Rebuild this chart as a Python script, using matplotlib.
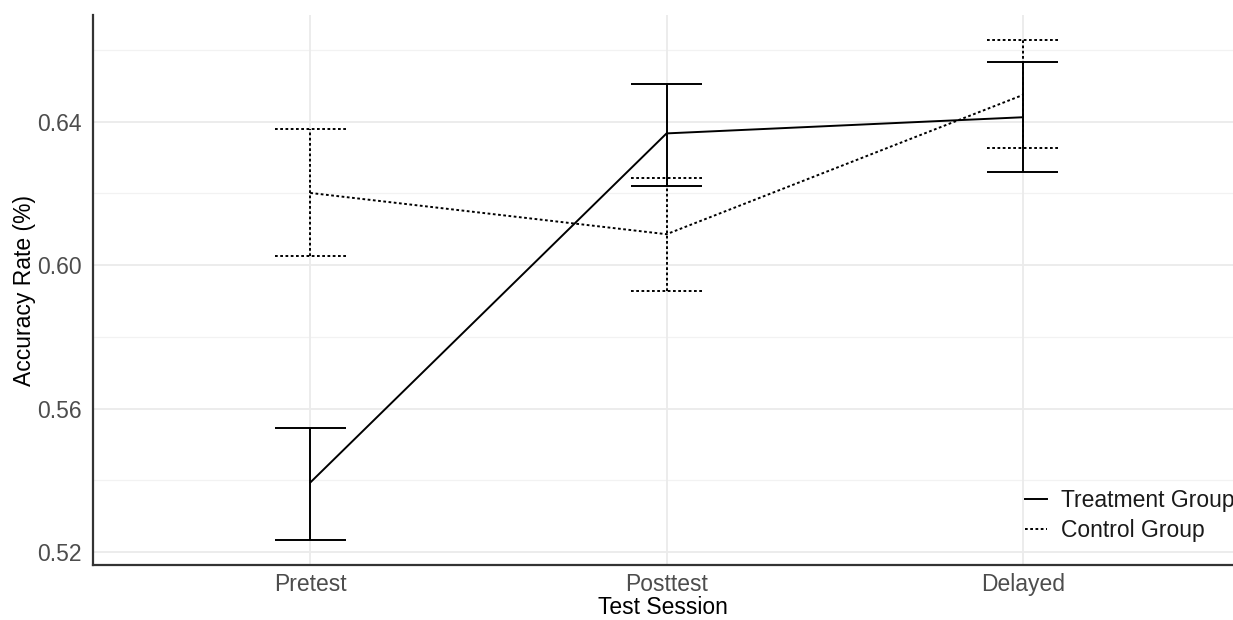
import matplotlib
matplotlib.use("Agg")
import matplotlib.pyplot as plt
from matplotlib.lines import Line2D

plt.rcParams['font.family'] = ['Liberation Sans', 'DejaVu Sans']

sessions = ["Pretest", "Posttest", "Delayed"]
treat_mean = [0.5394, 0.6367, 0.6412]
treat_lo = [0.5233, 0.6220, 0.6260]
treat_hi = [0.5546, 0.6506, 0.6566]
ctrl_mean = [0.6201, 0.6086, 0.6474]
ctrl_lo = [0.6026, 0.5929, 0.6326]
ctrl_hi = [0.6379, 0.6243, 0.6628]

yticks = [0.52, 0.56, 0.60, 0.64]
yminor = [0.54, 0.58, 0.62, 0.66]

fig = plt.figure(figsize=(12.33, 6.2), dpi=100)
ax = fig.add_axes([93/1233, 1-565/620, 1-93/1233, (565-15)/620])

x = list(range(len(sessions)))
cap = 0.1
lw = 1.4
dot = (0, (1.4, 1.3))
fs = 16.5

for v in yticks:
    ax.axhline(v, color='#EBEBEB', lw=1.3, zorder=0)
for v in yminor:
    ax.axhline(v, color='#F2F2F2', lw=0.9, zorder=0)
for xi in x:
    ax.axvline(xi, color='#EBEBEB', lw=1.3, zorder=0)

# treatment
ax.plot(x, treat_mean, color='black', lw=lw, linestyle='-')
ax.vlines(x, treat_lo, treat_hi, color='black', lw=lw, linestyle='-')
ax.hlines(treat_lo, [i - cap for i in x], [i + cap for i in x], color='black', lw=lw)
ax.hlines(treat_hi, [i - cap for i in x], [i + cap for i in x], color='black', lw=lw)

# control
ax.plot(x, ctrl_mean, color='black', lw=lw, linestyle=dot)
ax.vlines(x, ctrl_lo, ctrl_hi, color='black', lw=lw, linestyles=[dot])
ax.hlines(ctrl_lo, [i - cap for i in x], [i + cap for i in x], color='black', lw=lw, linestyles=[dot])
ax.hlines(ctrl_hi, [i - cap for i in x], [i + cap for i in x], color='black', lw=lw, linestyles=[dot])

ax.set_xlim(-0.61, 2.59)
ax.set_ylim(0.5164, 0.6697)
ax.set_xticks(x)
ax.set_xticklabels(sessions)
ax.set_yticks(yticks)
ax.set_yticklabels([f"{v:.2f}" for v in yticks])
ax.tick_params(axis='both', length=0, labelsize=fs, colors='#4D4D4D')
ax.tick_params(axis='y', pad=8)
ax.tick_params(axis='x', pad=6)

for s in ['top', 'right']:
    ax.spines[s].set_visible(False)
for s in ['left', 'bottom']:
    ax.spines[s].set_color('#333333')
    ax.spines[s].set_linewidth(1.6)

ax.set_xlabel("Test Session", fontsize=fs, color='black', labelpad=0)
ax.set_ylabel("Accuracy Rate (%)", fontsize=fs, color='black', labelpad=1)

handles = [Line2D([], [], color='black', lw=lw, linestyle='-'),
           Line2D([], [], color='black', lw=lw, linestyle=dot)]
leg = ax.legend(handles, ["Treatment Group", "Control Group"], loc='upper left',
                frameon=False, fontsize=fs,
                handlelength=0.95, handletextpad=0.62, labelspacing=0.32,
                borderaxespad=0, borderpad=0)
for t in leg.get_texts():
    t.set_color('#1A1A1A')
leg.set_bbox_to_anchor(((1025-93)/1140, (565-489)/550), transform=ax.transAxes)

fig.savefig("out.png", dpi=100)
